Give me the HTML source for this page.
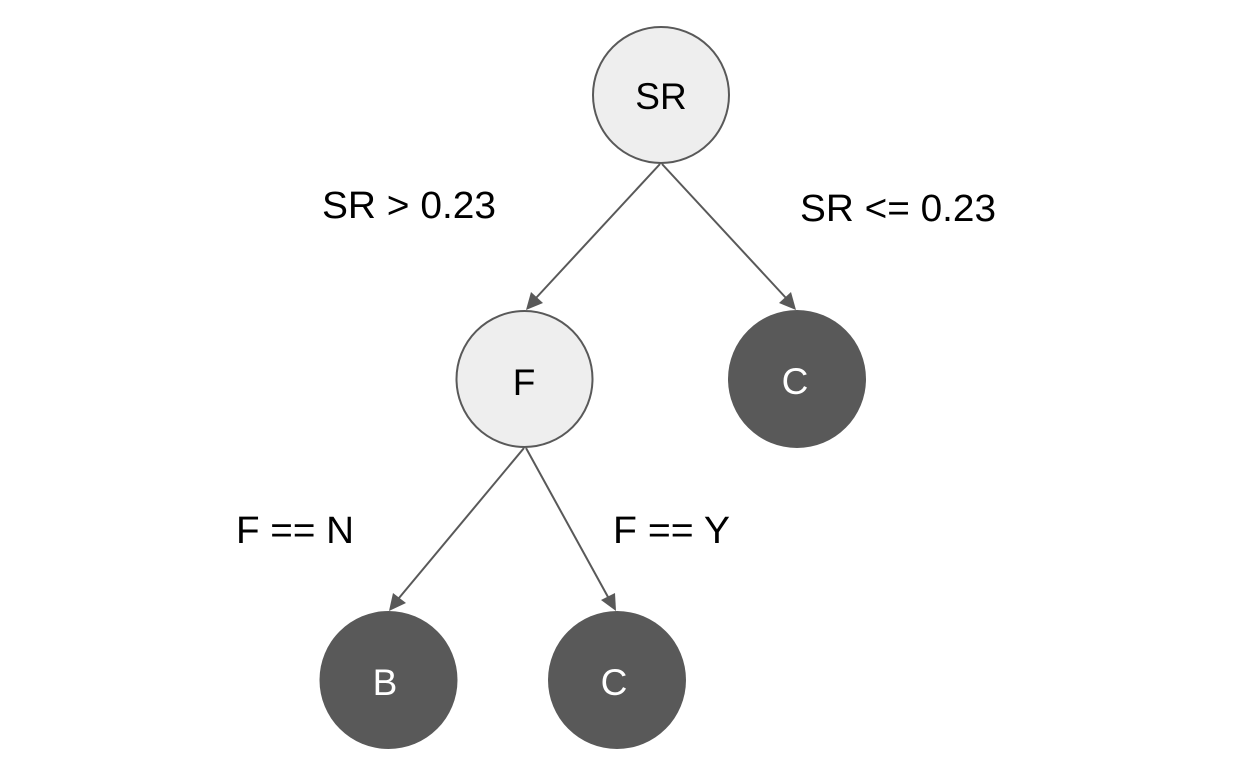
<!DOCTYPE html>
<html><head><style>body{margin:0;background:#fff}</style></head><body>
<svg width="1236" height="766" xmlns="http://www.w3.org/2000/svg" font-family="Liberation Sans, sans-serif">
<g stroke="#595959" stroke-width="2" fill="none">
<line x1="660" y1="164" x2="536" y2="298"/>
<line x1="662" y1="164" x2="786" y2="298"/>
<line x1="524" y1="448" x2="399" y2="598"/>
<line x1="526" y1="448" x2="608" y2="597"/>
</g>
<g fill="#595959">
<polygon points="526,310 531,292 543,303"/>
<polygon points="796,310 779,303 791,292"/>
<polygon points="389,611 393,593 406,603"/>
<polygon points="616,611 601,600 615,593"/>
</g>
<circle cx="661" cy="95" r="68" fill="#eeeeee" stroke="#595959" stroke-width="2"/>
<circle cx="524.5" cy="379" r="68" fill="#eeeeee" stroke="#595959" stroke-width="2"/>
<circle cx="797" cy="379" r="69" fill="#595959"/>
<circle cx="388.5" cy="680" r="69" fill="#595959"/>
<circle cx="617" cy="680" r="69" fill="#595959"/>
<g font-size="37" text-anchor="middle">
<text x="661" y="109">SR</text>
<text x="524" y="395">F</text>
<text x="795" y="394" fill="#fff">C</text>
<text x="385" y="695" fill="#fff">B</text>
<text x="614" y="695" fill="#fff">C</text>
</g>
<g font-size="38">
<text x="322" y="218" textLength="174" lengthAdjust="spacingAndGlyphs">SR &gt; 0.23</text>
<text x="800" y="221" textLength="196" lengthAdjust="spacingAndGlyphs">SR &lt;= 0.23</text>
<text x="236" y="543" textLength="118" lengthAdjust="spacingAndGlyphs">F == N</text>
<text x="613" y="543" textLength="117" lengthAdjust="spacingAndGlyphs">F == Y</text>
</g>
</svg>
</body></html>
